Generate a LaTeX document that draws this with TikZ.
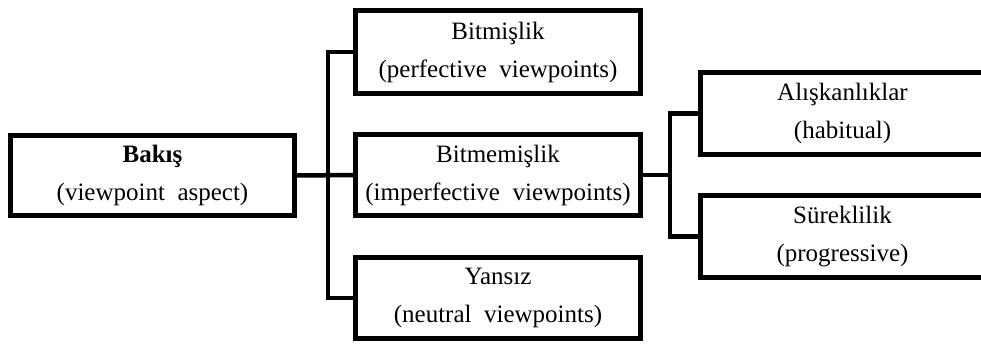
\documentclass[tikz,border=0pt]{standalone}
\usepackage{fontspec}
\setmainfont{Liberation Serif}
\begin{document}
\begin{tikzpicture}[x=1pt,y=-1pt,
  box/.style={draw=black, line width=5pt, fill=white, align=center,
    inner sep=0pt, text=black,
    font=\fontsize{25}{38}\selectfont},
  link/.style={draw=black, line width=4.5pt, line join=miter}]
\useasboundingbox (0,0) rectangle (981,344);
\clip (0,0) rectangle (981,344);
% root and the three viewpoint types
\node[box, minimum width=284pt, minimum height=80pt] (bakis) at (152.5,175.5)
  {\textbf{Bakış}\\(viewpoint\ \ aspect)};
\node[box, minimum width=285pt, minimum height=83pt] (bitmis) at (498,52)
  {Bitmişlik\\(perfective\ \ viewpoints)};
\node[box, minimum width=285pt, minimum height=81pt] (bitmemis) at (498,175)
  {Bitmemişlik\\(imperfective\ \ viewpoints)};
\node[box, minimum width=285pt, minimum height=81pt] (yansiz) at (498,298)
  {Yansız\\(neutral\ \ viewpoints)};
% subtypes of the imperfective
\node[box, minimum width=315pt, minimum height=82pt] (alis) at (857.5,113.5)
  {\hspace*{-30pt}Alışkanlıklar\\\hspace*{-30pt}(habitual)};
\node[box, minimum width=315pt, minimum height=82pt] (surek) at (857.5,236.5)
  {\hspace*{-30pt}Süreklilik\\\hspace*{-30pt}(progressive)};
% junction lines
\coordinate (j1) at (328,0);
\coordinate (j2) at (670,0);
\draw[link] (bitmis.west) -- (bitmis.west -| j1) -- (yansiz.west -| j1) -- (yansiz.west);
\draw[link] (bakis.east) -- (bitmemis.west);
\draw[link] (alis.west) -- (alis.west -| j2) -- (surek.west -| j2) -- (surek.west);
\draw[link] (bitmemis.east) -- (bitmemis.east -| j2);
\end{tikzpicture}
\end{document}
